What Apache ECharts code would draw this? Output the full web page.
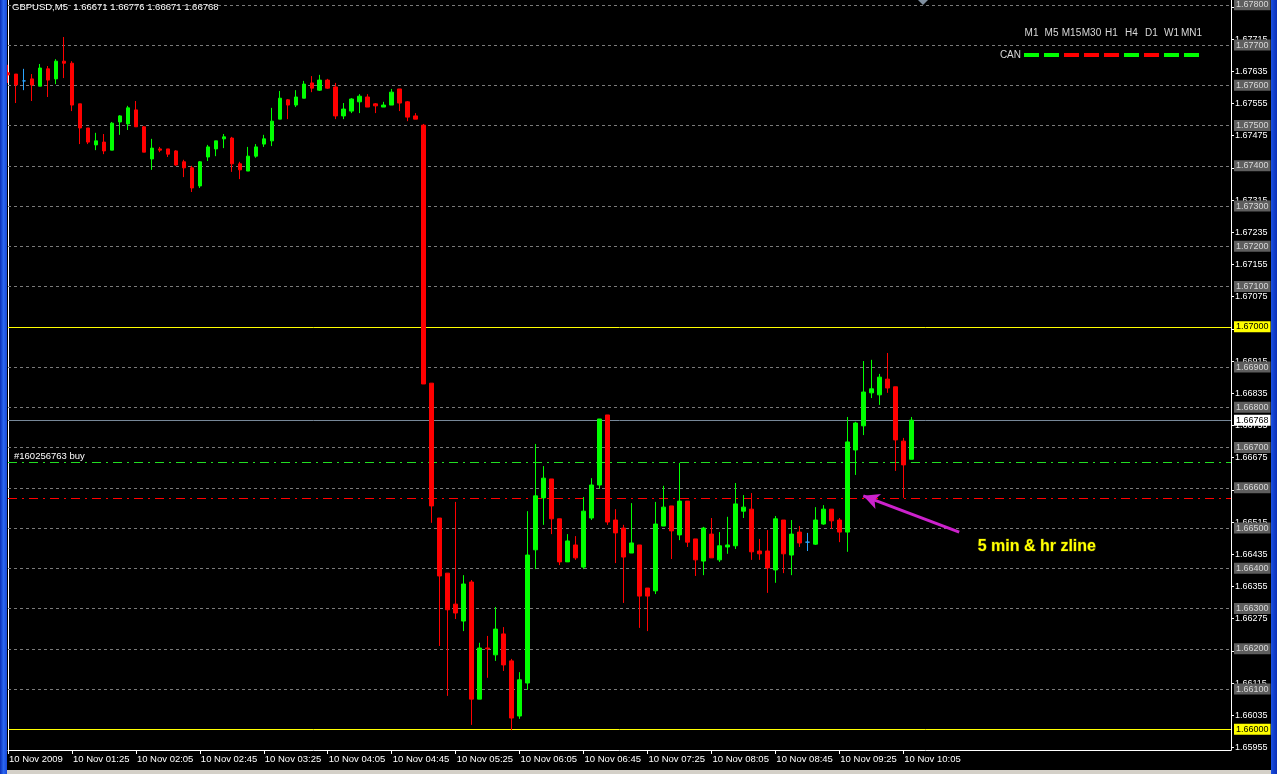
<!DOCTYPE html>
<html><head><meta charset="utf-8">
<script src="https://cdn.jsdelivr.net/npm/echarts@6/dist/echarts.min.js"></script>
<style>html,body{margin:0;padding:0;background:#000;overflow:hidden}#c{width:1277px;height:774px}</style>
</head><body><div id="c"></div>
<script>
// ---- data ----
const symbolName = 'GBPUSD,M5';
const times = [
'00:45','00:50','00:55',
'01:00','01:05','01:10','01:15','01:20','01:25','01:30','01:35','01:40','01:45','01:50','01:55',
'02:00','02:05','02:10','02:15','02:20','02:25','02:30','02:35','02:40','02:45','02:50','02:55',
'03:00','03:05','03:10','03:15','03:20','03:25','03:30','03:35','03:40','03:45','03:50','03:55',
'04:00','04:05','04:10','04:15','04:20','04:25','04:30','04:35','04:40','04:45','04:50','04:55',
'05:00','05:05','05:10','05:15','05:20','05:25','05:30','05:35','05:40','05:45','05:50','05:55',
'06:00','06:05','06:10','06:15','06:20','06:25','06:30','06:35','06:40','06:45','06:50','06:55',
'07:00','07:05','07:10','07:15','07:20','07:25','07:30','07:35','07:40','07:45','07:50','07:55',
'08:00','08:05','08:10','08:15','08:20','08:25','08:30','08:35','08:40','08:45','08:50','08:55',
'09:00','09:05','09:10','09:15','09:20','09:25','09:30','09:35','09:40','09:45','09:50','09:55',
'10:00','10:05','10:10'
];
const open = [
1.67631,1.67628,1.67611,1.67616,1.67598,1.67641,1.67616,1.67660,1.67655,1.67554,
1.67494,1.67452,1.67459,1.67439,1.67509,1.67504,1.67539,1.67497,1.67417,1.67442,
1.67442,1.67437,1.67410,1.67395,1.67350,1.67422,1.67442,1.67467,1.67469,1.67405,
1.67387,1.67424,1.67454,1.67462,1.67516,1.67564,1.67551,1.67568,1.67606,1.67588,
1.67613,1.67596,1.67524,1.67536,1.67559,1.67571,1.67554,1.67546,1.67551,1.67591,
1.67559,1.67524,1.67501,1.66860,1.66525,1.66388,1.66311,1.66269,1.66366,1.66075,
1.66202,1.66185,1.66237,1.66170,1.66033,1.66115,1.66446,1.66575,1.66622,1.66523,
1.66416,1.66458,1.66403,1.66525,1.66607,1.66781,1.66520,1.66500,1.66438,1.66458,
1.66351,1.66344,1.66505,1.66555,1.66483,1.66567,1.66473,1.66418,1.66485,1.66421,
1.66453,1.66456,1.66542,1.66547,1.66443,1.66443,1.66396,1.66520,1.66433,1.66490,
1.66465,1.66460,1.66510,1.66547,1.66520,1.66490,1.66694,1.66754,1.66836,1.66831,
1.66870,1.66851,1.66716,1.66671
];
const close = [
1.67626,1.67601,1.67611,1.67601,1.67643,1.67613,1.67660,1.67655,1.67551,1.67494,
1.67459,1.67462,1.67437,1.67506,1.67524,1.67544,1.67497,1.67434,1.67444,1.67439,
1.67429,1.67402,1.67395,1.67345,1.67410,1.67447,1.67462,1.67472,1.67405,1.67390,
1.67424,1.67447,1.67467,1.67511,1.67568,1.67551,1.67571,1.67603,1.67593,1.67613,
1.67593,1.67524,1.67541,1.67566,1.67573,1.67546,1.67549,1.67551,1.67583,1.67556,
1.67521,1.67516,1.66858,1.66555,1.66381,1.66297,1.66289,1.66361,1.66075,1.66202,
1.66200,1.66249,1.66160,1.66028,1.66123,1.66433,1.66580,1.66624,1.66523,1.66416,
1.66468,1.66426,1.66542,1.66607,1.66771,1.66515,1.66488,1.66428,1.66463,1.66331,
1.66331,1.66510,1.66552,1.66493,1.66567,1.66465,1.66421,1.66500,1.66426,1.66456,
1.66458,1.66560,1.66552,1.66441,1.66436,1.66401,1.66523,1.66436,1.66485,1.66463,
1.66465,1.66520,1.66547,1.66518,1.66490,1.66714,1.66761,1.66838,1.66846,1.66875,
1.66848,1.66719,1.66657,1.66768
];
const low = [
1.67606,1.67556,1.67588,1.67561,1.67598,1.67571,1.67603,1.67618,1.67536,1.67454,
1.67454,1.67439,1.67429,1.67439,1.67477,1.67489,1.67497,1.67434,1.67390,1.67434,
1.67422,1.67400,1.67372,1.67335,1.67345,1.67412,1.67424,1.67444,1.67385,1.67367,
1.67387,1.67420,1.67447,1.67449,1.67516,1.67516,1.67546,1.67568,1.67583,1.67586,
1.67591,1.67516,1.67516,1.67531,1.67531,1.67546,1.67531,1.67546,1.67551,1.67536,
1.67511,1.67516,1.66858,1.66513,1.66207,1.66083,1.66274,1.66244,1.66011,1.66075,
1.66128,1.66170,1.66145,1.65998,1.66026,1.66098,1.66398,1.66508,1.66485,1.66408,
1.66416,1.66421,1.66398,1.66520,1.66597,1.66508,1.66413,1.66314,1.66438,1.66252,
1.66244,1.66336,1.66505,1.66423,1.66470,1.66453,1.66381,1.66383,1.66426,1.66416,
1.66436,1.66448,1.66525,1.66421,1.66421,1.66339,1.66364,1.66388,1.66383,1.66453,
1.66443,1.66458,1.66508,1.66498,1.66465,1.66441,1.66632,1.66731,1.66823,1.66806,
1.66836,1.66642,1.66575,1.66671
];
const high = [
1.67651,1.67628,1.67641,1.67628,1.67653,1.67648,1.67665,1.67720,1.67660,1.67554,
1.67494,1.67482,1.67479,1.67509,1.67526,1.67549,1.67561,1.67499,1.67467,1.67447,
1.67442,1.67439,1.67415,1.67400,1.67412,1.67452,1.67462,1.67479,1.67472,1.67410,
1.67447,1.67454,1.67477,1.67544,1.67586,1.67566,1.67588,1.67611,1.67623,1.67626,
1.67616,1.67606,1.67556,1.67568,1.67578,1.67578,1.67556,1.67559,1.67591,1.67591,
1.67561,1.67531,1.67504,1.66860,1.66525,1.66388,1.66565,1.66383,1.66371,1.66215,
1.66232,1.66304,1.66254,1.66175,1.66142,1.66542,1.66709,1.66654,1.66622,1.66523,
1.66485,1.66480,1.66577,1.66624,1.66771,1.66781,1.66547,1.66508,1.66562,1.66458,
1.66351,1.66565,1.66605,1.66555,1.66662,1.66567,1.66473,1.66503,1.66525,1.66490,
1.66528,1.66612,1.66582,1.66587,1.66473,1.66495,1.66530,1.66520,1.66520,1.66505,
1.66488,1.66552,1.66557,1.66547,1.66525,1.66776,1.66764,1.66915,1.66918,1.66883,
1.66935,1.66851,1.66724,1.66776
];
const dateTickTimes  = ['00:45','01:25','02:05','02:45','03:25','04:05','04:45','05:25','06:05','06:45','07:25','08:05','08:45','09:25','10:05'];
const dateTickLabels = ['10 Nov 2009','10 Nov 01:25','10 Nov 02:05','10 Nov 02:45','10 Nov 03:25','10 Nov 04:05','10 Nov 04:45','10 Nov 05:25','10 Nov 06:05','10 Nov 06:45','10 Nov 07:25','10 Nov 08:05','10 Nov 08:45','10 Nov 09:25','10 Nov 10:05'];
const priceTicks = [1.65955,1.66035,1.66115,1.66195,1.66275,1.66355,1.66435,1.66515,1.66595,1.66675,1.66755,1.66835,1.66915,1.66995,1.67075,1.67155,1.67235,1.67315,1.67395,1.67475,1.67555,1.67635,1.67715,1.67795];
const roundLevels = [1.661,1.662,1.663,1.664,1.665,1.666,1.667,1.668,1.669,1.671,1.672,1.673,1.674,1.675,1.676,1.677,1.678];
const keyLevels = [1.660,1.670];
const currentPrice = 1.66768;
const orderLevel = 1.66663;
const orderLabel = '#160256763 buy';
const stopLevel = 1.66574;
const tfNames   = ['M1','M5','M15','M30','H1','H4','D1','W1','MN1'];
const tfSignals = ['up','up','down','down','down','up','down','up','up'];
const noteText = '5 min & hr zline';
const arrowFrom = [119, 1.66490];
const arrowTo   = [107, 1.66580];
const noteAt    = [121, 1.66453];

// ---- layout / build ----
const yMax = 1.67812, yMin = 1.659486;
const futurePad = Array.from({length: 40}, (_, i) => 'f' + i);
const xCats = times.concat(futurePad);
const tickIdx = new Set(dateTickTimes.map(t => times.indexOf(t)));
const labelMap = {};
dateTickTimes.forEach((t, i) => labelMap[t] = dateTickLabels[i]);
const candles = open.map((o, i) => [o, close[i], low[i], high[i]]);
const n = open.length - 1;
const header = symbolName + '  ' + [open[n], high[n], low[n], close[n]].map(v => v.toFixed(5)).join(' ');

const baseLbl = {show: true, position: 'end', distance: 3, fontSize: 9, fontFamily: 'Liberation Sans', padding: [1, 2, 1, 2]};
const levelLines = [];
roundLevels.forEach(v => levelLines.push({yAxis: v,
  lineStyle: {color: '#7a7a7a', type: [3, 3], width: 1},
  label: Object.assign({}, baseLbl, {formatter: v.toFixed(5), backgroundColor: '#5e5e5e', color: '#d8d8d8'})}));
keyLevels.forEach(v => levelLines.push({yAxis: v,
  lineStyle: {color: '#ffff00', type: 'solid', width: 1},
  label: Object.assign({}, baseLbl, {formatter: v.toFixed(5), backgroundColor: '#ffff00', color: '#000'})}));
levelLines.push({yAxis: currentPrice,
  lineStyle: {color: '#778899', type: 'solid', width: 1},
  label: Object.assign({}, baseLbl, {formatter: currentPrice.toFixed(5), backgroundColor: '#ffffff', color: '#000'})});
levelLines.push({yAxis: orderLevel,
  lineStyle: {color: '#22dd22', type: [9, 5, 2, 5], width: 1},
  label: {show: true, position: 'insideStartTop', distance: [6, 1], formatter: orderLabel, color: '#fff', fontSize: 9.5, fontFamily: 'Liberation Sans'}});
levelLines.push({yAxis: stopLevel,
  lineStyle: {color: '#ff0000', type: [9, 5, 2, 5], width: 1},
  label: {show: false}});

const graphics = [
  {type: 'rect', z: 100, shape: {x: 0, y: 0, width: 7, height: 774},
   style: {fill: new echarts.graphic.LinearGradient(0, 0, 1, 0, [{offset: 0, color: '#0a2fb8'}, {offset: 0.5, color: '#2a66f0'}, {offset: 1, color: '#1848d8'}])}},
  {type: 'rect', z: 100, shape: {x: 1271, y: 0, width: 6, height: 774},
   style: {fill: new echarts.graphic.LinearGradient(0, 0, 1, 0, [{offset: 0, color: '#1a50e0'}, {offset: 1, color: '#0a2fb8'}])}},
  {type: 'rect', z: 100, shape: {x: 7, y: 770, width: 1264, height: 4}, style: {fill: '#d4d0c8'}},
  {type: 'polygon', z: 100, shape: {points: [[918, 0], [928, 0], [923, 5]]}, style: {fill: '#8090a0'}},
  {type: 'text', z: 100, style: {x: 1021, y: 55.5, text: 'CAN', fill: '#d8d8d8', font: '10px "Liberation Sans"', textAlign: 'right', textVerticalAlign: 'middle'}}
];
tfNames.forEach((nm, i) => {
  const cx = 1031.5 + 20 * i;
  graphics.push({type: 'text', z: 100, style: {x: cx, y: 33.5, text: nm, fill: '#d8d8d8', font: '10px "Liberation Sans"', textAlign: 'center', textVerticalAlign: 'middle'}});
  graphics.push({type: 'rect', z: 100, shape: {x: cx - 7.5, y: 53, width: 15, height: 4}, style: {fill: tfSignals[i] === 'up' ? '#00ff00' : '#ff0000'}});
});

const chart = echarts.init(document.getElementById('c'), null, {renderer: 'canvas'});
chart.setOption({
  backgroundColor: '#000',
  animation: false,
  title: {text: header, left: 12, top: 2, padding: 0,
    textStyle: {color: '#fff', fontSize: 9.5, fontWeight: 'normal', fontFamily: 'Liberation Sans'}},
  grid: {left: 8, right: 46, top: 0, bottom: 24, containLabel: false},
  xAxis: {
    type: 'category', data: xCats, boundaryGap: false,
    axisLine: {show: true, lineStyle: {color: '#fff', width: 1}},
    axisTick: {show: true, interval: (i) => tickIdx.has(i), length: 4, lineStyle: {color: '#fff'}},
    axisLabel: {interval: (i) => tickIdx.has(i), formatter: (v) => labelMap[v] || '',
      color: '#fff', fontSize: 9.5, fontFamily: 'Liberation Sans', align: 'left', margin: 4, padding: [0, 0, 0, 1]},
    splitLine: {show: false}
  },
  yAxis: [{
    type: 'value', position: 'right', min: yMin, max: yMax, scale: true,
    axisLine: {show: true, lineStyle: {color: '#fff', width: 1}},
    axisTick: {show: true, customValues: priceTicks, length: 3, lineStyle: {color: '#fff'}},
    axisLabel: {customValues: priceTicks, formatter: (v) => v.toFixed(5), color: '#fff', fontSize: 9, fontFamily: 'Liberation Sans', margin: 4},
    splitLine: {show: false}
  }, {
    type: 'value', position: 'left', min: yMin, max: yMax, scale: true,
    axisLine: {show: true, lineStyle: {color: '#fff', width: 1}},
    axisTick: {show: false}, axisLabel: {show: false}, splitLine: {show: false}
  }],
  series: [{
    type: 'candlestick', name: symbolName, data: candles, barWidth: 4, z: 2,
    itemStyle: {color: '#00ff00', color0: '#ff0000', borderColor: '#00ff00', borderColor0: '#ff0000', borderColorDoji: '#2aa5ff', borderWidth: 1},
    markLine: {z: 1, silent: true, animation: false, symbol: ['none', 'none'], precision: 5, data: levelLines}
  }, {
    type: 'line', name: 'note', data: [], z: 6,
    markLine: {z: 6, silent: true, animation: false, symbol: ['none', 'arrow'], symbolSize: [12, 16],
      lineStyle: {color: '#cc22cc', width: 3, type: 'solid'}, label: {show: false},
      data: [[{coord: arrowFrom}, {coord: arrowTo}]]},
    markPoint: {z: 6, silent: true, animation: false, symbol: 'circle', symbolSize: 1, itemStyle: {color: 'rgba(0,0,0,0)'},
      label: {show: true, position: 'right', distance: 2, formatter: noteText, color: '#ffff00', fontSize: 16, fontWeight: 'bold',
        fontFamily: 'Liberation Sans', textBorderColor: '#3a3a00', textBorderWidth: 1},
      data: [{coord: noteAt}]}
  }],
  graphic: graphics
});
</script></body></html>
